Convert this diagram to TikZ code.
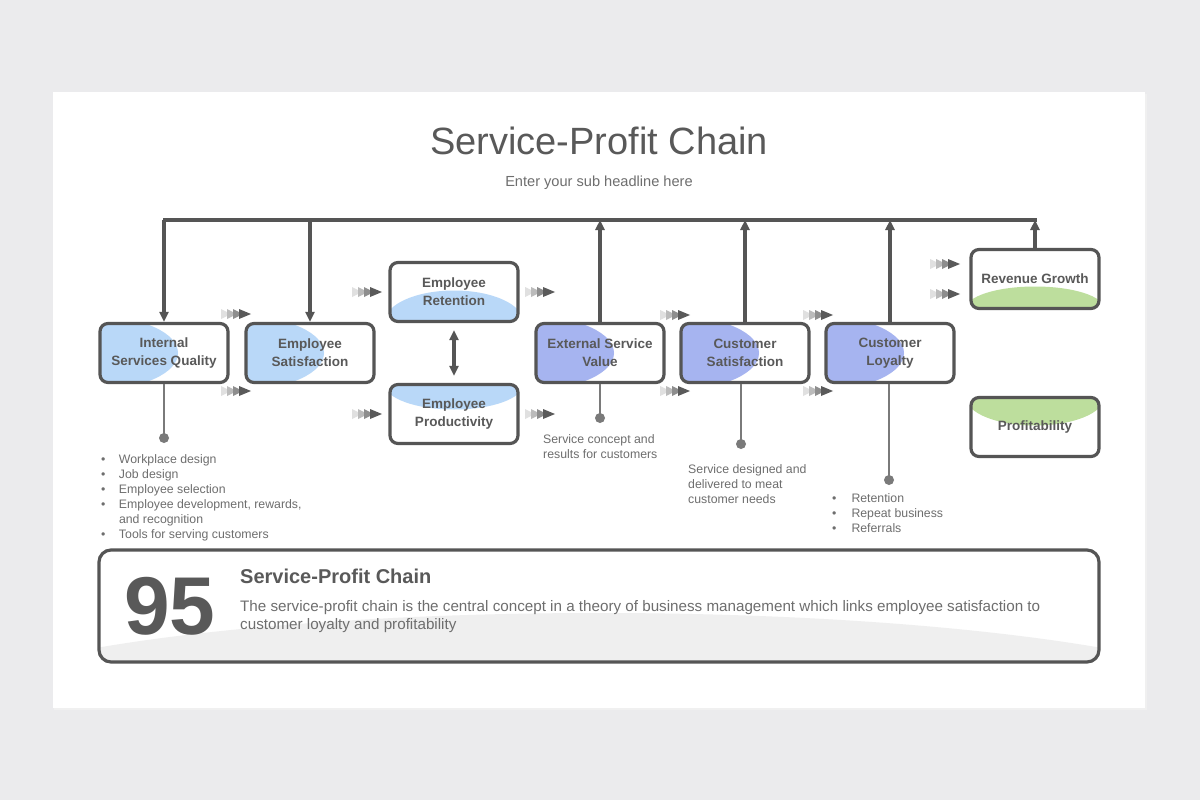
\documentclass[tikz,border=0pt]{standalone}
\usepackage{fontspec}
\setmainfont{Liberation Sans}
\usetikzlibrary{arrows.meta}
\definecolor{bgc}{HTML}{EBEBED}
\definecolor{linec}{HTML}{555555}
\definecolor{textc}{HTML}{595959}
\definecolor{smallc}{HTML}{6E6E6E}
\definecolor{stemc}{HTML}{7A7A7A}
\definecolor{lblue}{HTML}{B9D8F8}
\definecolor{pblue}{HTML}{A6B4F0}
\definecolor{lgreen}{HTML}{BDDE9D}
\definecolor{grayf}{HTML}{EFEFEF}
\definecolor{ch1}{HTML}{E0E0E0}
\definecolor{ch2}{HTML}{BBBBBB}
\definecolor{ch3}{HTML}{8E8E8E}
\definecolor{ch4}{HTML}{5A5A5A}
\tikzset{
  box/.style={draw=linec, line width=3.2pt, rounded corners=8pt, fill=white,
    minimum width=128pt, minimum height=59pt, inner sep=0pt, align=center,
    text=textc, font=\bfseries\fontsize{13.5}{18}\selectfont},
  leftblue/.style={path picture={\fill[#1] (path picture bounding box.west) ellipse [x radius=78pt, y radius=36pt];}},
  botfill/.style 2 args={path picture={\fill[#1] (path picture bounding box.south) ellipse [x radius=69pt, y radius=#2];}},
  topfill/.style 2 args={path picture={\fill[#1] (path picture bounding box.north) ellipse [x radius=69pt, y radius=#2];}},
  mainline/.style={draw=linec, line width=3.1pt},
  arr/.style={draw=linec, line width=3.1pt, -{Triangle[length=10pt,width=9pt]}},
  darr/.style={draw=linec, line width=3.1pt, {Triangle[length=10pt,width=9pt]}-{Triangle[length=10pt,width=9pt]}},
  stem/.style={draw=stemc, line width=2.6pt},
  dotn/.style={circle, fill=stemc, inner sep=0pt, minimum size=10pt},
  small/.style={text=smallc, font=\fontsize{12.3}{15}\selectfont, align=left, inner sep=0pt},
  chev/.pic={
    \fill[ch1] (0,-5) -- (10,0) -- (0,5) -- cycle;
    \fill[ch2] (6,-5) -- (16,0) -- (6,5) -- cycle;
    \fill[ch3] (12,-5) -- (22,0) -- (12,5) -- cycle;
    \fill[ch4] (18,-5) -- (30,0) -- (18,5) -- cycle;
  }
}
\begin{document}
\begin{tikzpicture}[x=1pt,y=-1pt]
\useasboundingbox (0,0) rectangle (1200,800);
\fill[bgc] (0,0) rectangle (1200,800);
\fill[black!6] (54,94) rectangle (1147,710);
\fill[white] (53,92) rectangle (1145,708);

% title
\node[text=textc, font=\fontsize{38}{44}\selectfont] (title) at (599,141) {Service-Profit Chain};
\node[text=smallc, font=\fontsize{14.6}{17}\selectfont] (sub) at (599,183) {Enter your sub headline here};

% boxes
\node[box, leftblue=lblue] (isq) at (164,353) {Internal\\Services Quality};
\node[box, leftblue=lblue] (es) at (310,353) {Employee\\Satisfaction};
\node[box, botfill={lblue}{31pt}] (er) at (454,292) {Employee\\Retention};
\node[box, topfill={lblue}{25pt}] (ep) at (454,414) {Employee\\Productivity};
\node[box, leftblue=pblue] (esv) at (600,353) {External Service\\Value};
\node[box, leftblue=pblue] (cs) at (745,353) {Customer\\Satisfaction};
\node[box, leftblue=pblue] (cl) at (890,353) {Customer\\Loyalty};
\node[box, botfill={lgreen}{22pt}] (rg) at (1035,279) {Revenue Growth};
\node[box, topfill={lgreen}{28pt}] (pr) at (1035,427) {Profitability};

% top line
\coordinate (tl) at (163,220);
\coordinate (tr) at (1037,220);
\draw[mainline] (tl) -- (tr);
\draw[arr] (isq.north |- tl) -- (isq.north);
\draw[arr] (es.north |- tl) -- (es.north);
\draw[arr] (esv.north) -- (esv.north |- tl);
\draw[arr] (cs.north) -- (cs.north |- tl);
\draw[arr] (cl.north) -- (cl.north |- tl);
\draw[arr] (rg.north) -- (rg.north |- tl);

% double arrow
\draw[darr, shorten <=7pt, shorten >=7pt] (er.south) -- (ep.north);

% chevrons
\foreach \px/\py in {221/314, 221/391, 352/292, 352/414, 525/292, 525/414,
                     660/315, 660/391, 803/315, 803/391, 930/264, 930/294}
  \pic at (\px,\py) {chev};

% stems and dots
\node[dotn] (d1) at (164,438) {};
\node[dotn] (d2) at (600,418) {};
\node[dotn] (d3) at (741,444) {};
\node[dotn] (d4) at (889,480) {};
\draw[stem] (isq.south) -- (d1.center);
\draw[stem] (esv.south) -- (d2.center);
\draw[stem] (cs.south -| d3) -- (d3.center);
\draw[stem] (cl.south -| d4) -- (d4.center);

% labels
\node[small, anchor=north west] (l1) at (101,453) {%
  \begin{tabular}{@{}l@{\hspace{13.5pt}}l@{}}
  •& Workplace design\\
  •& Job design\\
  •& Employee selection\\
  •& Employee development, rewards,\\
   & and recognition\\
  •& Tools for serving customers
  \end{tabular}};
\node[small, anchor=north west] (l2) at (543,434) {Service concept and\\results for customers};
\node[small, anchor=north west] (l3) at (688,464) {Service designed and\\delivered to meat\\customer needs};
\node[small, anchor=north west] (l4) at (832,492) {%
  \begin{tabular}{@{}l@{\hspace{15pt}}l@{}}
  •& Retention\\
  •& Repeat business\\
  •& Referrals
  \end{tabular}};

% bottom box
\node[draw=linec, line width=3.2pt, rounded corners=12pt, fill=white,
      minimum width=1000pt, minimum height=112pt, inner sep=0pt,
      path picture={\fill[grayf] ([yshift=-114pt]path picture bounding box.center) ellipse [x radius=680pt, y radius=107pt];}]
      (bb) at (599,606) {};
\node[text=textc, font=\bfseries\fontsize{82}{90}\selectfont, inner sep=0pt] (num) at (170,606) {95};
\node[text=textc, font=\bfseries\fontsize{20}{24}\selectfont, anchor=west, inner sep=0pt] (bt) at (240,576) {Service-Profit Chain};
\node[text=smallc, font=\fontsize{15.2}{18}\selectfont, anchor=north west, align=left, inner sep=0pt] (body) at (240,600)
  {The service-profit chain is the central concept in a theory of business management which links employee satisfaction to\\customer loyalty and profitability};
\end{tikzpicture}
\end{document}
